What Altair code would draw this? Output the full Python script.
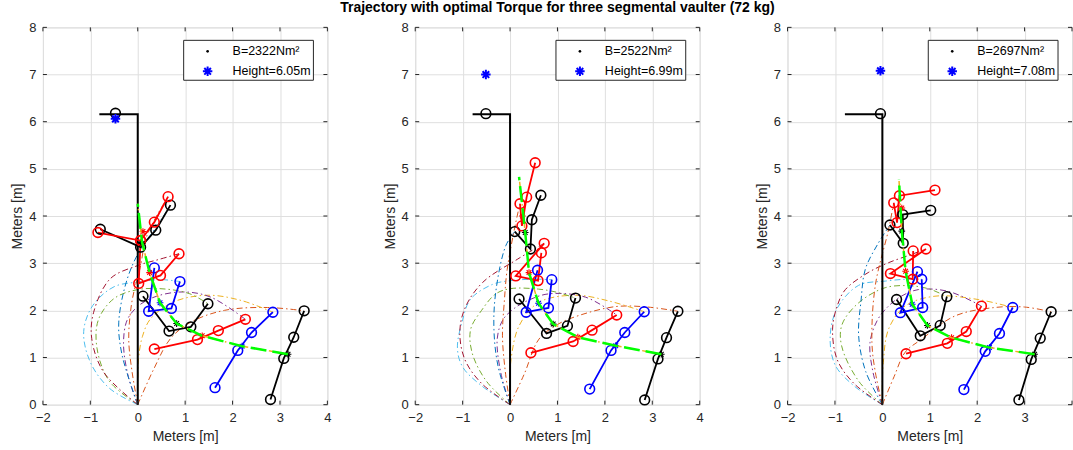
import altair as alt
import pandas as pd

TITLE = "Trajectory with optimal Torque for three segmental vaulter (72 kg)"
B_LABELS = ["B=2322Nm²", "B=2522Nm²", "B=2697Nm²"]
H_LABELS = ["Height=6.05m", "Height=6.99m", "Height=7.08m"]
X_TICKS = [-2, -1, 0, 1, 2, 3, 4]
Y_TICKS = [0, 1, 2, 3, 4, 5, 6, 7, 8]

FIG_COLORS = ["#000000", "#0000FF", "#FF0000", "#000000", "#0000FF", "#FF0000", "#000000", "#FF0000"]
CURVE_COLORS = ["#D95319", "#EDB120", "#7E2F8E", "#77AC30", "#4DBEEE", "#A2142F", "#0072BD", "#D95319"]

# ---------------- panel 1 ----------------
P1_FIG_X = [[2.80, 3.08, 3.29, 3.51], [1.63, 2.11, 2.40, 2.85], [0.35, 1.26, 1.70, 2.27],
            [0.11, 0.66, 1.12, 1.48], [0.35, 0.23, 0.71, 0.89], [0.06, 0.02, 0.48, 0.87],
            [-0.79, 0.06, 0.38, 0.69], [-0.84, 0.06, 0.35, 0.64]]
P1_FIG_Y = [[0.11, 0.98, 1.43, 1.99], [0.36, 1.15, 1.53, 1.96], [1.18, 1.38, 1.57, 1.81],
            [2.30, 1.56, 1.65, 2.14], [2.90, 1.98, 2.04, 2.61], [3.48, 2.57, 2.74, 3.20],
            [3.72, 3.34, 3.70, 4.23], [3.65, 3.48, 3.87, 4.41]]
P1_COM_X = [3.17, 2.20, 1.36, 0.82, 0.47, 0.25, 0.09, 0.11]
P1_COM_Y = [1.07, 1.24, 1.46, 1.72, 2.16, 2.80, 3.42, 3.67]
P1_PATH_X = [3.17, 2.20, 1.36, 0.82, 0.47, 0.25, 0.09, 0.00]
P1_PATH_Y = [1.07, 1.24, 1.46, 1.72, 2.16, 2.80, 3.45, 4.26]
P1_CURVE_X = [[0, 0.34, 0.69, 1.12, 1.83, 2.74, 3.51],
              [0, 0, 0.02, 0.10, 0.27, 0.76, 1.47, 2.18, 2.85],
              [0, -0.20, -0.30, -0.22, 0.02, 0.40, 0.97, 1.54, 2.27],
              [0, -0.60, -0.86, -0.83, -0.50, 0.0, 0.60, 1.10, 1.48],
              [0, -0.60, -1.00, -1.14, -0.95, -0.50, 0.0, 0.50, 0.89],
              [0, -0.72, -0.97, -0.93, -0.58, 0.0, 0.45, 0.87],
              [0, -0.33, -0.40, -0.22, 0.06, 0.38, 0.69],
              [0, -0.12, -0.19, -0.12, 0.05, 0.20, 0.64]]
P1_CURVE_Y = [[0, 0.76, 1.40, 1.75, 2.00, 2.06, 1.99],
              [0, 0.50, 1.01, 1.45, 1.82, 2.18, 2.32, 2.21, 1.96],
              [0, 0.60, 1.30, 1.80, 2.10, 2.30, 2.39, 2.28, 1.81],
              [0, 0.50, 1.20, 1.80, 2.25, 2.44, 2.45, 2.35, 2.14],
              [0, 0.35, 0.90, 1.55, 2.10, 2.50, 2.60, 2.65, 2.61],
              [0, 0.69, 1.40, 1.96, 2.67, 2.95, 3.08, 3.20],
              [0, 1.05, 1.75, 2.67, 3.30, 3.75, 4.23],
              [0, 0.70, 1.40, 2.20, 2.90, 3.60, 4.41]]
P1_POLE_X = [0.0, 0.0, -0.81]
P1_POLE_Y = [0.0, 6.16, 6.16]
P1_TOP_X = [-0.47]
P1_TOP_Y = [6.18]
P1_PEAK_X = [-0.47]
P1_PEAK_Y = [6.06]

# ---------------- panel 2 ----------------
P2_FIG_X = [[2.84, 3.12, 3.30, 3.54], [1.68, 2.13, 2.42, 2.83], [0.44, 1.33, 1.73, 2.25],
            [0.19, 0.77, 1.21, 1.38], [0.58, 0.34, 0.81, 0.88], [0.66, 0.59, 0.12, 0.72],
            [0.10, 0.43, 0.46, 0.65], [0.21, 0.25, 0.35, 0.53]]
P2_FIG_Y = [[0.10, 0.97, 1.42, 1.98], [0.33, 1.15, 1.53, 1.97], [1.10, 1.34, 1.58, 1.90],
            [2.24, 1.51, 1.67, 2.26], [2.85, 1.96, 2.05, 2.65], [3.22, 2.63, 2.73, 3.42],
            [3.67, 3.30, 3.92, 4.44], [4.26, 3.79, 4.40, 5.13]]
P2_COM_X = [3.19, 2.23, 1.43, 0.91, 0.60, 0.40, 0.32, 0.26]
P2_COM_Y = [1.07, 1.25, 1.43, 1.71, 2.15, 2.80, 3.65, 4.00]
P2_PATH_X = [3.19, 2.23, 1.43, 0.91, 0.60, 0.40, 0.32, 0.19]
P2_PATH_Y = [1.07, 1.25, 1.43, 1.71, 2.15, 2.80, 3.65, 4.83]
P2_CURVE_X = [[0, 0.30, 0.61, 1.00, 1.45, 2.23, 2.90, 3.54],
              [0, 0, 0.02, 0.19, 0.61, 1.38, 2.08, 2.83],
              [0, -0.20, -0.27, -0.15, 0.10, 0.40, 0.82, 1.59, 2.25],
              [0, -0.50, -0.80, -0.83, -0.60, -0.30, 0.01, 0.60, 1.00, 1.38],
              [0, -0.60, -1.00, -1.11, -1.00, -0.83, -0.37, 0.01, 0.50, 0.88],
              [0, -0.60, -0.95, -1.06, -0.95, -0.58, 0.15, 0.72],
              [0, -0.25, -0.34, -0.30, -0.09, 0.10],
              [0, -0.10, -0.16, -0.12, -0.06, 0.12, 0.21]]
P2_CURVE_Y = [[0, 0.65, 1.39, 1.70, 1.89, 2.08, 2.07, 1.98],
              [0, 0.50, 0.95, 1.67, 2.17, 2.32, 2.20, 1.97],
              [0, 0.70, 1.40, 1.80, 2.05, 2.22, 2.35, 2.28, 1.90],
              [0, 0.50, 1.10, 1.60, 2.00, 2.35, 2.46, 2.45, 2.38, 2.26],
              [0, 0.40, 0.80, 1.20, 1.80, 2.24, 2.55, 2.63, 2.66, 2.65],
              [0, 0.45, 0.95, 1.53, 2.05, 2.59, 3.08, 3.42],
              [0, 0.80, 1.60, 2.40, 3.37, 3.67],
              [0, 0.70, 1.46, 2.20, 2.87, 3.86, 4.26]]
P2_POLE_X = [0.0, 0.0, -0.79]
P2_POLE_Y = [0.0, 6.16, 6.16]
P2_TOP_X = [-0.51]
P2_TOP_Y = [6.17]
P2_PEAK_X = [-0.51]
P2_PEAK_Y = [7.00]

# ---------------- panel 3 ----------------
P3_FIG_X = [[2.88, 3.14, 3.33, 3.56], [1.72, 2.17, 2.47, 2.75], [0.50, 1.37, 1.77, 2.09],
            [0.30, 0.80, 1.22, 1.36], [0.74, 0.38, 0.85, 0.83], [0.65, 0.64, 0.17, 0.92],
            [0.16, 0.44, 0.43, 1.02], [0.24, 0.31, 0.36, 1.11]]
P3_FIG_Y = [[0.10, 0.96, 1.41, 1.97], [0.32, 1.13, 1.51, 2.06], [1.08, 1.30, 1.55, 2.09],
            [2.23, 1.46, 1.68, 2.29], [2.82, 1.95, 2.06, 2.66], [3.26, 2.66, 2.78, 3.30],
            [3.81, 3.42, 4.03, 4.12], [4.28, 3.86, 4.43, 4.55]]
P3_COM_X = [3.21, 2.26, 1.46, 0.95, 0.63, 0.49, 0.41, 0.41]
P3_COM_Y = [1.07, 1.21, 1.42, 1.68, 2.13, 2.83, 3.68, 4.17]
P3_PATH_X = [3.21, 2.26, 1.46, 0.95, 0.63, 0.49, 0.41, 0.35]
P3_PATH_Y = [1.07, 1.21, 1.42, 1.68, 2.13, 2.83, 3.68, 4.78]
P3_CURVE_X = [[0, 0.25, 0.48, 0.83, 1.53, 2.37, 3.00, 3.56],
              [0, 0, 0.02, 0.13, 0.48, 1.11, 2.02, 2.75],
              [0, -0.20, -0.26, -0.10, 0.13, 0.40, 0.76, 1.40, 2.09],
              [0, -0.50, -0.86, -0.85, -0.50, 0.06, 0.60, 1.00, 1.36],
              [0, -0.60, -1.00, -1.10, -0.95, -0.50, 0.06, 0.50, 0.83],
              [0, -0.60, -0.95, -1.05, -0.95, -0.78, -0.30, 0.13, 0.60, 0.92],
              [0, -0.35, -0.50, -0.45, -0.36, -0.10, 0.16],
              [0, -0.15, -0.22, -0.15, 0.13, 0.24]]
P3_CURVE_Y = [[0, 0.60, 1.11, 1.39, 1.88, 2.06, 2.07, 1.97],
              [0, 0.50, 0.89, 1.60, 2.09, 2.30, 2.23, 2.06],
              [0, 0.70, 1.32, 1.80, 2.09, 2.30, 2.44, 2.40, 2.09],
              [0, 0.50, 1.25, 1.70, 2.16, 2.48, 2.52, 2.45, 2.29],
              [0, 0.40, 0.85, 1.46, 2.05, 2.53, 2.62, 2.66, 2.66],
              [0, 0.45, 0.95, 1.60, 2.10, 2.44, 2.80, 3.01, 3.18, 3.30],
              [0, 0.70, 1.46, 2.20, 2.87, 3.40, 3.81],
              [0, 0.70, 1.32, 2.52, 3.71, 4.28]]
P3_POLE_X = [0.0, 0.0, -0.79]
P3_POLE_Y = [0.0, 6.16, 6.16]
P3_TOP_X = [-0.04]
P3_TOP_Y = [6.17]
P3_PEAK_X = [-0.04]
P3_PEAK_Y = [7.08]

PANELS = [
    (P1_FIG_X, P1_FIG_Y, P1_COM_X, P1_COM_Y, P1_PATH_X, P1_PATH_Y, P1_CURVE_X, P1_CURVE_Y,
     P1_POLE_X, P1_POLE_Y, P1_TOP_X, P1_TOP_Y, P1_PEAK_X, P1_PEAK_Y),
    (P2_FIG_X, P2_FIG_Y, P2_COM_X, P2_COM_Y, P2_PATH_X, P2_PATH_Y, P2_CURVE_X, P2_CURVE_Y,
     P2_POLE_X, P2_POLE_Y, P2_TOP_X, P2_TOP_Y, P2_PEAK_X, P2_PEAK_Y),
    (P3_FIG_X, P3_FIG_Y, P3_COM_X, P3_COM_Y, P3_PATH_X, P3_PATH_Y, P3_CURVE_X, P3_CURVE_Y,
     P3_POLE_X, P3_POLE_Y, P3_TOP_X, P3_TOP_Y, P3_PEAK_X, P3_PEAK_Y),
]

W, H = 285, 378
FONT = "Liberation Sans"
AXC = "#262626"
ASTER = "M-1,0L1,0M0,-1L0,1M-0.7,-0.7L0.7,0.7M-0.7,0.7L0.7,-0.7"
XS = alt.Scale(domain=[-2, 4], nice=False, zero=False)
YS = alt.Scale(domain=[0, 8], nice=False, zero=False)


def enc_xy(x_ticks):
    xax = alt.Axis(values=x_ticks, title="Meters [m]", grid=True, gridColor="#dfdfdf",
                   domain=False, ticks=False, tickSize=0, labelFont=FONT, labelFontSize=13,
                   labelColor=AXC, labelPadding=7, titleFont=FONT, titleFontSize=14,
                   titleFontWeight="normal", titleColor=AXC, titlePadding=5, labelFlush=False)
    yax = alt.Axis(values=Y_TICKS, title="Meters [m]", grid=True, gridColor="#dfdfdf",
                   domain=False, ticks=False, tickSize=0, labelFont=FONT, labelFontSize=13,
                   labelColor=AXC, labelPadding=7, titleFont=FONT, titleFontSize=14,
                   titleFontWeight="normal", titleColor=AXC, titlePadding=4, labelFlush=False)
    return (alt.X("x:Q", scale=XS, axis=xax), alt.Y("y:Q", scale=YS, axis=yax))


def panel(k):
    (fx, fy, cx, cy, px, py, kx, ky, polex, poley, tx, ty, hx, hy) = PANELS[k]
    X, Y = enc_xy(X_TICKS if k < 2 else X_TICKS[:-1])
    fig_rows = []
    for f, (xs, ys) in enumerate(zip(fx, fy)):
        for j, (a, b) in enumerate(zip(xs, ys)):
            fig_rows.append({"fig": f, "ord": j, "x": a, "y": b, "color": FIG_COLORS[f]})
    fig_df = pd.DataFrame(fig_rows)
    com_df = pd.DataFrame({"x": cx, "y": cy, "color": FIG_COLORS[:len(cx)]})
    path_df = pd.DataFrame({"x": px, "y": py, "ord": list(range(len(px)))})
    cur_rows = []
    for c, (xs, ys) in enumerate(zip(kx, ky)):
        for j, (a, b) in enumerate(zip(xs, ys)):
            cur_rows.append({"cid": c, "ord": j, "x": a, "y": b, "color": CURVE_COLORS[c]})
    cur_df = pd.DataFrame(cur_rows)
    pole_df = pd.DataFrame({"x": polex, "y": poley, "ord": list(range(len(polex)))})
    top_df = pd.DataFrame({"x": tx, "y": ty})
    peak_df = pd.DataFrame({"x": hx, "y": hy})
    xt_df = pd.DataFrame({"x": X_TICKS})
    yt_df = pd.DataFrame({"y": Y_TICKS})
    leg_df = pd.DataFrame({"b": [B_LABELS[k]], "h": [H_LABELS[k]]})

    curves = alt.Chart(cur_df).mark_line(strokeWidth=1, strokeDash=[6, 3, 1.5, 3],
                                         interpolate="catmull-rom").encode(
        x=X, y=Y, color=alt.Color("color:N", scale=None), detail="cid:N", order="ord:Q")
    pole = alt.Chart(pole_df).mark_line(color="black", strokeWidth=2).encode(
        x=X, y=Y, order="ord:Q")
    sticks = alt.Chart(fig_df).mark_line(strokeWidth=1.8).encode(
        x=X, y=Y, color=alt.Color("color:N", scale=None), detail="fig:N", order="ord:Q")
    circles = alt.Chart(fig_df).mark_point(shape="circle", size=95, filled=False,
                                           strokeWidth=1.6, opacity=1).encode(
        x=X, y=Y, color=alt.Color("color:N", scale=None))
    coms = alt.Chart(com_df).mark_point(shape=ASTER, size=45, filled=False,
                                        strokeWidth=1.1, opacity=1).encode(
        x=X, y=Y, color=alt.Color("color:N", scale=None))
    path_under = alt.Chart(path_df).mark_line(color="#EDB120", strokeWidth=1.5,
                                              strokeDash=[6, 3, 1.5, 3]).encode(
        x=X, y=Y, order="ord:Q")
    path_green = alt.Chart(path_df).mark_line(color="#00FF00", strokeWidth=2.5,
                                              strokeDash=[16, 6]).encode(
        x=X, y=Y, order="ord:Q")
    top = alt.Chart(top_df).mark_point(shape="circle", size=95, filled=False, color="black",
                                       strokeWidth=1.6, opacity=1).encode(x=X, y=Y)
    peak = alt.Chart(peak_df).mark_point(shape=ASTER, size=90, filled=False, color="#0000FF",
                                         strokeWidth=2, opacity=1).encode(x=X, y=Y)
    tb = alt.Chart(xt_df).mark_rule(color=AXC, strokeWidth=1).encode(
        x=X, y=alt.value(H), y2=alt.value(H - 4))
    tt = alt.Chart(xt_df).mark_rule(color=AXC, strokeWidth=1).encode(
        x=X, y=alt.value(0), y2=alt.value(4))
    tl = alt.Chart(yt_df).mark_rule(color=AXC, strokeWidth=1).encode(
        y=Y, x=alt.value(0), x2=alt.value(4))
    tr = alt.Chart(yt_df).mark_rule(color=AXC, strokeWidth=1).encode(
        y=Y, x=alt.value(W), x2=alt.value(W - 4))
    box = alt.Chart(leg_df).mark_rect(fill="white", stroke=AXC, strokeWidth=1).encode(
        x=alt.value(141), x2=alt.value(271), y=alt.value(13), y2=alt.value(53))
    ldot = alt.Chart(leg_df).mark_point(shape="circle", filled=True, size=7, color="black",
                                        opacity=1).encode(x=alt.value(165), y=alt.value(24))
    lstar = alt.Chart(leg_df).mark_point(shape=ASTER, filled=False, size=90, color="#0000FF",
                                         strokeWidth=2, opacity=1).encode(
        x=alt.value(165), y=alt.value(44))
    lt1 = alt.Chart(leg_df).mark_text(align="left", baseline="middle", font=FONT, fontSize=12.5,
                                      color="black").encode(
        x=alt.value(190), y=alt.value(24), text="b:N")
    lt2 = alt.Chart(leg_df).mark_text(align="left", baseline="middle", font=FONT, fontSize=12.5,
                                      color="black").encode(
        x=alt.value(190), y=alt.value(44), text="h:N")

    ch = alt.layer(curves, pole, sticks, circles, coms, path_under, path_green, top, peak,
                   tb, tt, tl, tr, box, ldot, lstar, lt1, lt2).properties(width=W, height=H)
    if k == 1:
        ch = ch.properties(title=alt.TitleParams(TITLE, font=FONT, fontSize=14, fontWeight="bold",
                                                 color="black", anchor="middle", offset=6))
    return ch


chart = alt.hconcat(panel(0), panel(1), panel(2), spacing=88, bounds="flush").properties(
    padding={"left": 10, "top": 0, "right": 0, "bottom": 0}
).configure_view(stroke=AXC, strokeWidth=1).configure(background="white")

chart.save("out.html", embed_options={"renderer": "svg", "actions": False})
